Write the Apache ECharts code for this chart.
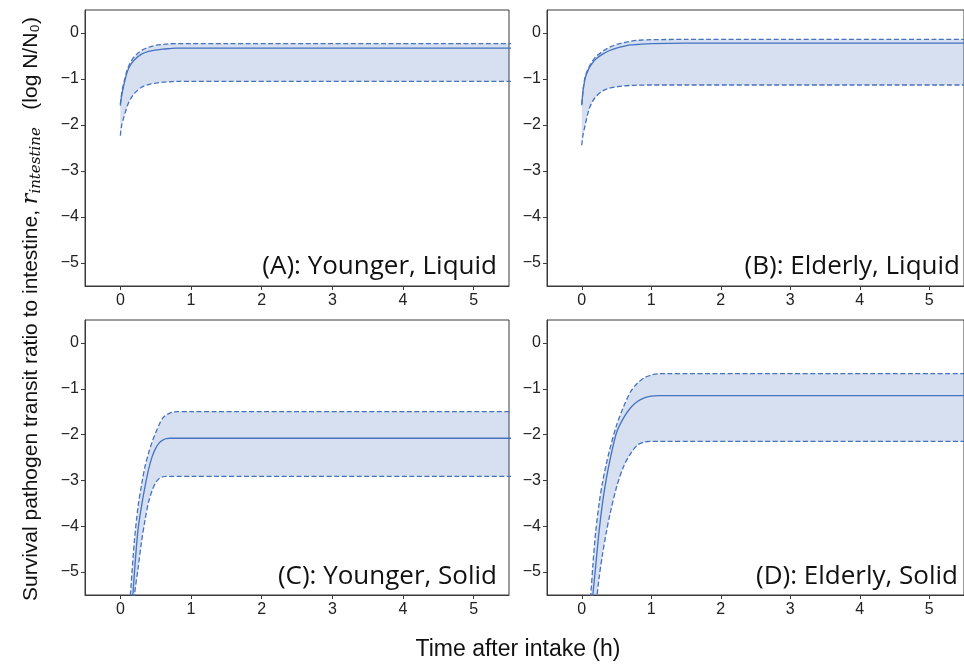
<!DOCTYPE html>
<html>
<head>
<meta charset="utf-8">
<script src="https://cdn.jsdelivr.net/npm/echarts@6/dist/echarts.min.js"></script>
<style>html,body{margin:0;padding:0;background:#fff;}#c{width:964px;height:664px;}</style>
</head>
<body>
<div id="c"></div>
<script>
// ---- data ----
const yTicks = [-5, -4, -3, -2, -1, 0];
const xTicks = [0, 1, 2, 3, 4, 5];
const panelTitles = ['(A): Younger, Liquid', '(B): Elderly, Liquid', '(C): Younger, Solid', '(D): Elderly, Solid'];

const timeA  = [0, 0.02, 0.05, 0.1, 0.15, 0.2, 0.3, 0.4, 0.5, 0.6, 0.7, 0.8, 1.0, 1.5, 5.6];
const meanA  = [-1.58, -1.35, -1.13, -0.83, -0.68, -0.58, -0.46, -0.40, -0.37, -0.35, -0.34, -0.33, -0.33, -0.33, -0.33];
const upperA = [-1.55, -1.30, -1.08, -0.79, -0.62, -0.51, -0.38, -0.31, -0.27, -0.25, -0.235, -0.23, -0.23, -0.23, -0.23];
const lowerA = [-2.23, -2.00, -1.83, -1.58, -1.42, -1.31, -1.18, -1.12, -1.09, -1.07, -1.06, -1.05, -1.05, -1.05, -1.05];

const timeB  = [0, 0.02, 0.05, 0.1, 0.15, 0.2, 0.3, 0.4, 0.5, 0.6, 0.7, 0.8, 1.0, 1.5, 5.6];
const meanB  = [-1.57, -1.25, -0.98, -0.78, -0.66, -0.57, -0.46, -0.38, -0.33, -0.29, -0.26, -0.25, -0.23, -0.22, -0.22];
const upperB = [-1.55, -1.22, -0.95, -0.75, -0.62, -0.52, -0.40, -0.31, -0.25, -0.21, -0.18, -0.16, -0.145, -0.14, -0.14];
const lowerB = [-2.44, -2.20, -2.00, -1.68, -1.50, -1.39, -1.26, -1.20, -1.17, -1.15, -1.14, -1.135, -1.13, -1.13, -1.13];

const timeC  = [0.12, 0.15, 0.2, 0.25, 0.3, 0.35, 0.4, 0.45, 0.5, 0.55, 0.6, 0.65, 0.7, 0.75, 0.8, 1.0, 5.6];
const meanC  = [-6.7, -6.1, -5.0, -4.08, -3.56, -3.13, -2.76, -2.48, -2.30, -2.18, -2.12, -2.09, -2.08, -2.08, -2.08, -2.08, -2.08];
const upperC = [-6.0, -5.33, -4.3, -3.58, -3.10, -2.69, -2.40, -2.16, -1.96, -1.78, -1.64, -1.57, -1.53, -1.505, -1.50, -1.50, -1.50];
const lowerC = [-6.9, -6.35, -5.5, -4.93, -4.34, -3.86, -3.47, -3.22, -3.05, -2.96, -2.92, -2.91, -2.91, -2.91, -2.91, -2.91, -2.91];

const timeD  = [0.1, 0.13, 0.16, 0.2, 0.25, 0.3, 0.35, 0.4, 0.5, 0.6, 0.7, 0.8, 0.9, 1.0, 1.1, 1.2, 5.6];
const meanD  = [-6.45, -5.95, -5.5, -4.88, -4.10, -3.48, -3.00, -2.60, -1.96, -1.64, -1.42, -1.28, -1.20, -1.16, -1.15, -1.15, -1.15];
const upperD = [-6.05, -5.5, -4.85, -4.13, -3.50, -3.03, -2.66, -2.34, -1.80, -1.40, -1.07, -0.88, -0.76, -0.70, -0.675, -0.67, -0.67];
const lowerD = [-7.6, -7.0, -6.4, -5.8, -5.12, -4.60, -4.16, -3.78, -3.15, -2.70, -2.42, -2.23, -2.16, -2.15, -2.15, -2.15, -2.15];

// ---- chart ----
const panels = [
  {t: timeA, m: meanA, u: upperA, l: lowerA},
  {t: timeB, m: meanB, u: upperB, l: lowerB},
  {t: timeC, m: meanC, u: upperC, l: lowerC},
  {t: timeD, m: meanD, u: upperD, l: lowerD}
];
const gridRects = [
  {left: 85, top: 10, width: 424, height: 276},
  {left: 547, top: 10, width: 425, height: 276},
  {left: 85, top: 320, width: 424, height: 275},
  {left: 547, top: 320, width: 425, height: 275}
];
const lineColor = '#4672c0';
const fillColor = 'rgba(70,114,192,0.22)';
const frameColor = '#3a3a3a';
const minus = v => String(v).replace('-', '\u2212');

const grid = gridRects.map(r => Object.assign({show: true, borderColor: frameColor, borderWidth: 1, backgroundColor: 'transparent'}, r));
const xAxis = gridRects.map((r, i) => ({
  type: 'value', gridIndex: i, min: -0.5, max: 5.5,
  splitLine: {show: false},
  axisLine: {show: true, onZero: false, lineStyle: {color: frameColor}},
  axisTick: {show: true, length: 4, lineStyle: {color: frameColor}, customValues: xTicks},
  axisLabel: {customValues: xTicks, color: '#222', fontSize: 16, fontFamily: 'Liberation Sans, Arial, sans-serif', margin: 7,
    formatter: v => Number.isInteger(v) ? minus(v) : ''}
}));
const yAxis = gridRects.map((r, i) => ({
  type: 'value', gridIndex: i, min: -5.5, max: 0.5,
  splitLine: {show: false},
  axisLine: {show: true, onZero: false, lineStyle: {color: frameColor}},
  axisTick: {show: true, length: 4, lineStyle: {color: frameColor}, customValues: yTicks},
  axisLabel: {customValues: yTicks, color: '#222', fontSize: 16, fontFamily: 'Liberation Sans, Arial, sans-serif', margin: 6,
    formatter: v => Number.isInteger(v) ? minus(v) : ''}
}));

const series = [];
panels.forEach((p, i) => {
  const pairs = arr => p.t.map((t, k) => [t, arr[k]]);
  const common = {xAxisIndex: i, yAxisIndex: i, symbol: 'none', smooth: 0.3, clip: true, silent: true};
  // shaded band between upper and lower bounds
  series.push({
    type: 'custom', xAxisIndex: i, yAxisIndex: i, silent: true, z: 1,
    data: p.t.map((t, k) => [t, p.u[k], p.l[k]]),
    encode: {x: 0, y: [1, 2]},
    renderItem: (params, api) => {
      if (params.dataIndex !== 0) return null;
      const top = p.t.map((t, k) => api.coord([t, p.u[k]]));
      const bot = p.t.map((t, k) => api.coord([t, p.l[k]])).reverse();
      const cs = params.coordSys;
      return {
        type: 'polygon', shape: {points: top.concat(bot)},
        style: {fill: fillColor},
        clipPath: {type: 'rect', shape: {x: cs.x, y: cs.y, width: cs.width, height: cs.height}}
      };
    }
  });
  series.push(Object.assign({}, common, {
    name: 'upper' + i, type: 'line', data: pairs(p.u), z: 3,
    lineStyle: {color: lineColor, width: 1.3, type: [5, 2.5]}
  }));
  series.push(Object.assign({}, common, {
    name: 'lower' + i, type: 'line', data: pairs(p.l), z: 3,
    lineStyle: {color: lineColor, width: 1.3, type: [5, 2.5]}
  }));
  series.push(Object.assign({}, common, {
    name: 'mean' + i, type: 'line', data: pairs(p.m), z: 3,
    lineStyle: {color: lineColor, width: 1.3}
  }));
});

const labelPos = [[497, 280], [960, 280], [497, 590], [958, 590]];
const graphic = panelTitles.map((txt, i) => ({
  type: 'text', x: labelPos[i][0], y: labelPos[i][1], z: 100,
  style: {text: txt, textAlign: 'right', textVerticalAlign: 'bottom', fill: '#111',
    font: '26px "Open Sans", Lato, sans-serif'}
}));
graphic.push({
  type: 'text', x: 518, y: 650, z: 100,
  style: {text: 'Time after intake (h)', textAlign: 'center', textVerticalAlign: 'middle', fill: '#111',
    font: '23px "Liberation Sans", Arial, sans-serif'}
});
graphic.push({
  type: 'text', x: 31, y: 309, rotation: Math.PI / 2, z: 100,
  style: {
    text: '{a|Survival pathogen transit ratio to intestine, }{r|r}{s|intestine}{a|   (log N/N\u2080)}',
    textAlign: 'center', textVerticalAlign: 'middle',
    rich: {
      a: {fontSize: 21, fontFamily: 'Liberation Sans, Arial, sans-serif', fill: '#111', lineHeight: 26, verticalAlign: 'middle'},
      r: {fontSize: 22, fontFamily: 'DejaVu Serif, serif', fontStyle: 'italic', fill: '#111', lineHeight: 26, verticalAlign: 'middle'},
      s: {fontSize: 15, fontFamily: 'DejaVu Serif, serif', fontStyle: 'italic', fill: '#111', lineHeight: 26, verticalAlign: 'bottom'}
    }
  }
});

const chart = echarts.init(document.getElementById('c'), null, {renderer: 'canvas'});
chart.setOption({animation: false, backgroundColor: '#fff', grid, xAxis, yAxis, series, graphic});
</script>
</body>
</html>
